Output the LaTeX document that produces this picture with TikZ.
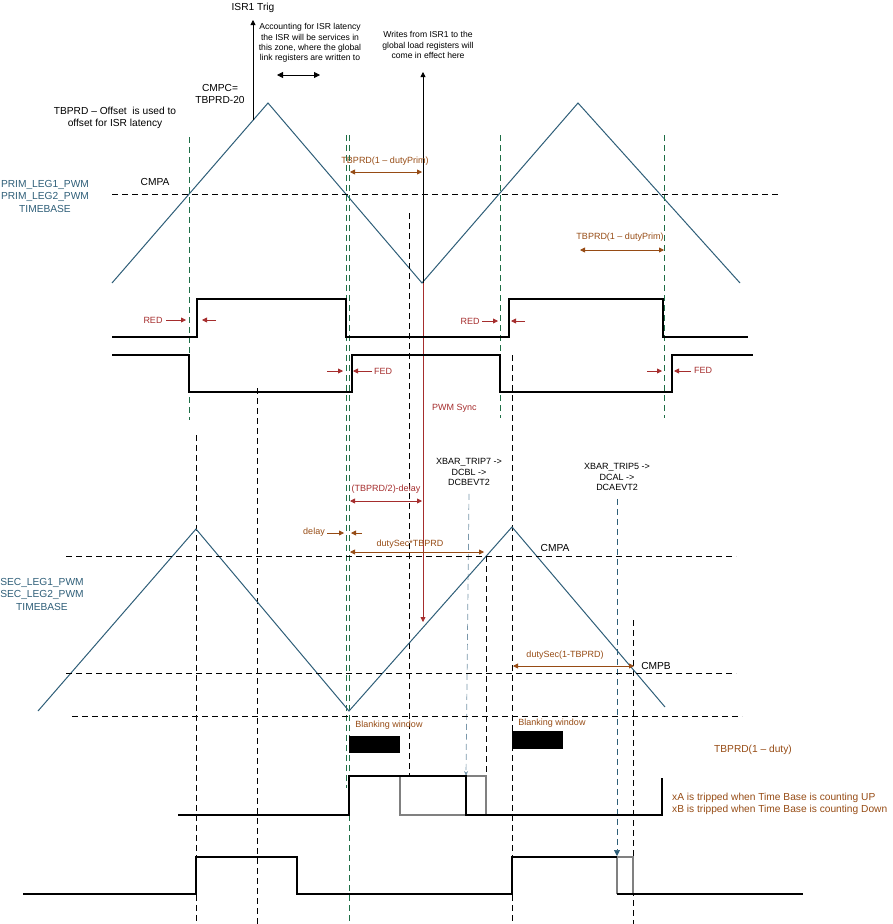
\documentclass[tikz,border=0pt]{standalone}
\usepackage{fontspec}
\setmainfont{Liberation Sans}
\usetikzlibrary{arrows.meta}
\definecolor{tb}{RGB}{46,94,120}
\definecolor{gr}{RGB}{30,110,70}
\definecolor{rd}{RGB}{165,45,45}
\definecolor{br}{RGB}{150,75,20}
\definecolor{lb}{RGB}{120,150,170}
\begin{document}
\begin{tikzpicture}[x=1pt,y=-1pt,
  txt/.style={font=\fontsize{9}{10.5}\selectfont,inner sep=0pt,align=center},
  big/.style={font=\fontsize{10.2}{12.5}\selectfont},
  tri/.style={tb,line width=1pt},
  wave/.style={black,line width=1.3pt},
  gwave/.style={gray,line width=1.3pt},
  bd/.style={black,dash pattern=on 6pt off 4pt,line width=0.6pt},
  gd/.style={gr,dash pattern=on 6pt off 4pt,line width=0.6pt},
  dim/.style={br,line width=0.8pt,{Triangle[length=5pt,width=5pt]}-{Triangle[length=5pt,width=5pt]}},
  rdim/.style={rd,line width=0.8pt,{Triangle[length=5pt,width=5pt]}-{Triangle[length=5pt,width=5pt]}},
  tip/.style={-{Triangle[length=5pt,width=5pt]},line width=0.8pt},
]
\useasboundingbox (0,0) rectangle (892,924);
% ---------- primary ----------
\draw[tri] (112,283) -- (268,103) -- (422,283) -- (578,103) -- (740,283);
\draw[bd] (112,194) -- (780,194);
\node[txt,big] (cmpa1) at (155,182) {CMPA};
\node[txt,tb,big] (prim) at (45,196) {PRIM\_LEG1\_PWM\\PRIM\_LEG2\_PWM\\TIMEBASE};
\node[txt,big] (off) at (115,118) {TBPRD -- Offset \ is used to\\offset for ISR latency};
\node[txt,big] (cmpc) at (220,94) {CMPC=\\TBPRD-20};
\node[txt,big] (isr) at (253,8) {ISR1 Trig};
\coordinate (isrb) at (253,120);
\draw[tip] (isrb) -- (253,20);
\node[txt,font=\fontsize{8.6}{10.3}\selectfont] (acc) at (310,43) {Accounting for ISR latency\\the ISR will be services in\\this zone, where the global\\link registers are written to};
\coordinate (za) at (277,75); \coordinate (zb) at (320,75);
\draw[line width=0.8pt,{Triangle[length=6pt,width=6pt]}-{Triangle[length=6pt,width=6pt]}] (za) -- (zb);
\node[txt,font=\fontsize{8.6}{10.8}\selectfont] (wr) at (428,45) {Writes from ISR1 to the\\global load registers will\\come in effect here};
\coordinate (val) at (423,283);
\draw[tip] (val) -- (423,72);
\coordinate (syncend) at (423,622);
\draw[rd,tip] (val) -- (syncend);
\node[txt,rd,anchor=west] (sync) at (432,408) {PWM Sync};
\node[txt,br] (d1) at (385,161) {TBPRD(1 -- dutyPrim)};
\coordinate (d1a) at (350,172); \coordinate (d1b) at (422,172);
\draw[dim] (d1a) -- (d1b);
\node[txt,br] (d2) at (620,237) {TBPRD(1 -- dutyPrim)};
\coordinate (d2a) at (580,250); \coordinate (d2b) at (664,250);
\draw[dim] (d2a) -- (d2b);
% green dashed
\draw[gd] (189,137) -- (189,420);
\draw[gd] (346,135) -- (346,788);
\draw[gd] (349,135) -- (349,924);
\draw[gd] (500,135) -- (500,418);
\draw[gd] (664,135) -- (664,418);
% primary PWMs
\draw[wave] (112,337) -- (197,337) -- (197,299) -- (346,299) -- (346,337) -- (509,337) -- (509,299) -- (663,299) -- (663,337) -- (748,337);
\draw[wave] (112,355) -- (189,355) -- (189,392) -- (352,392) -- (352,355) -- (500,355) -- (500,392) -- (672,392) -- (672,355) -- (753,355);
% RED / FED
\node[txt,rd] (red1) at (153,320) {RED};
\draw[rd,tip] (166,320) -- (186,320);
\draw[rd,tip] (216,320) -- (202,320);
\node[txt,rd] (red2) at (470,321) {RED};
\draw[rd,tip] (482,321) -- (498,321);
\draw[rd,tip] (525,321) -- (511,321);
\draw[rd,tip] (327,371) -- (343,371);
\draw[rd,tip] (372,371) -- (353,371);
\node[txt,rd,anchor=west] (fed1) at (374,371) {FED};
\draw[rd,tip] (647,371) -- (662,371);
\draw[rd,tip] (691,371) -- (674,371);
\node[txt,rd,anchor=west] (fed2) at (694,370) {FED};
% black dashed verticals
\draw[bd] (257,388) -- (257,924);
\draw[bd] (409,213) -- (409,776);
\draw[bd] (196,435) -- (196,924);
\draw[bd] (512,355) -- (512,924);
\draw[bd] (486,556) -- (486,815);
\draw[bd] (633,620) -- (633,924);
% XBAR
\node[txt] (x7) at (469,472) {XBAR\_TRIP7 ->\\DCBL ->\\DCBEVT2};
\node[txt] (x5) at (617,477) {XBAR\_TRIP5 ->\\DCAL ->\\DCAEVT2};
\draw[lb,dash pattern=on 6pt off 4pt,line width=0.7pt,-{Stealth[length=5pt,width=4pt]}] (x7.south) ++(0,8) -- (466,776);
\draw[tb,dash pattern=on 6pt off 4pt,line width=0.7pt,-{Triangle[length=6pt,width=6pt]}] (x5.south) ++(0,8) -- (617,856);
% ---------- secondary ----------
\draw[tri] (38,711) -- (196,529) -- (349,711) -- (512,527) -- (665,707);
\draw[bd] (66,556) -- (736,556);
\draw[bd] (66,673) -- (736,673);
\draw[bd] (72,716) -- (742,716);
\node[txt,big] (cmpa2) at (555,548) {CMPA};
\node[txt,big] (cmpb) at (656,666) {CMPB};
\node[txt,tb,big] (sec) at (42,594) {SEC\_LEG1\_PWM\\SEC\_LEG2\_PWM\\TIMEBASE};
\node[txt,rd] (hd) at (386,489) {(TBPRD/2)-delay};
\coordinate (hda) at (350,501); \coordinate (hdb) at (422,501);
\draw[rdim] (hda) -- (hdb);
\node[txt,br] (dl) at (314,532) {delay};
\draw[br,tip] (327,533) -- (344,533);
\draw[br,tip] (362,533) -- (351,533);
\node[txt,br] (ds) at (410,544) {dutySec*TBPRD};
\coordinate (dsa) at (350,552); \coordinate (dsb) at (484,552);
\draw[dim] (dsa) -- (dsb);
\node[txt,br] (ds2) at (565,655) {dutySec(1-TBPRD)};
\coordinate (ds2a) at (513,666); \coordinate (ds2b) at (634,666);
\draw[dim] (ds2a) -- (ds2b);
\fill[black] (349,736) rectangle (400,753);
\node[txt,br] (bw1) at (389,725) {Blanking window};
\fill[black] (512,731) rectangle (563,749);
\node[txt,br] (bw2) at (552,723) {Blanking window};
\node[txt,br,big] (tdu) at (753,750) {TBPRD(1 -- duty)};
\node[txt,br,big,anchor=west,align=left] (xab) at (672,804) {xA is tripped when Time Base is counting UP\\xB is tripped when Time Base is counting Down};
% secondary PWM1
\draw[gwave] (400,776) -- (400,815) -- (466,815);
\draw[gwave] (466,776) -- (486,776) -- (486,815);
\draw[wave] (178,815) -- (349,815) -- (349,776) -- (466,776) -- (466,815) -- (662,815) -- (662,778);
% secondary PWM2
\draw[gwave] (617,857) -- (633,857) -- (633,894);
\draw[gwave] (617,857) -- (617,894);
\draw[wave] (23,894) -- (196,894) -- (196,857) -- (297,857) -- (297,894) -- (512,894) -- (512,857) -- (617,857);
\draw[wave] (617,894) -- (803,894);
\end{tikzpicture}
\end{document}
